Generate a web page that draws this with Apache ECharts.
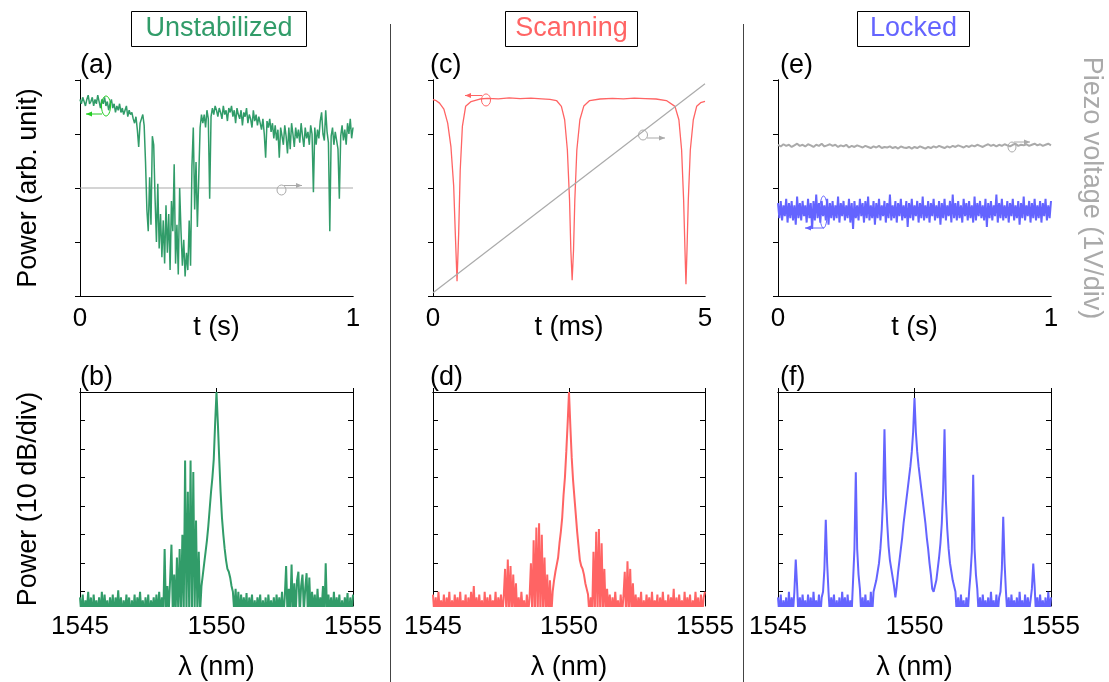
<!DOCTYPE html>
<html><head><meta charset="utf-8">
<script src="https://cdn.jsdelivr.net/npm/echarts@6/dist/echarts.min.js"></script>
<style>html,body{margin:0;padding:0;background:#fff}#c{width:1109px;height:682px}</style>
</head><body><div id="c"></div>
<script>
// ---------------- DATA ----------------
// Panel (a): unstabilized power vs time (arb. units), t = 0..1 s, step 0.005 s
const tStartA = 0, tStepA = 0.005;
const powerA = [
0.91,0.89,0.92,0.90,0.88,0.91,0.93,0.89,0.90,0.92,
0.88,0.91,0.89,0.93,0.90,0.87,0.91,0.89,0.92,0.88,
0.90,0.86,0.89,0.91,0.87,0.89,0.85,0.88,0.86,0.89,
0.85,0.87,0.84,0.86,0.88,0.83,0.86,0.84,0.85,0.82,
0.80,0.83,0.77,0.69,0.80,0.82,0.84,0.79,0.62,0.40,
0.30,0.55,0.33,0.74,0.70,0.45,0.25,0.52,0.22,0.38,
0.18,0.35,0.15,0.42,0.20,0.38,0.12,0.44,0.30,0.61,
0.15,0.33,0.10,0.50,0.30,0.14,0.26,0.09,0.20,0.12,
0.35,0.14,0.60,0.78,0.40,0.62,0.32,0.55,0.78,0.84,
0.80,0.84,0.78,0.86,0.82,0.45,0.83,0.87,0.84,0.88,
0.86,0.83,0.87,0.85,0.82,0.88,0.84,0.86,0.81,0.87,
0.85,0.88,0.83,0.86,0.80,0.87,0.84,0.82,0.86,0.79,
0.85,0.83,0.87,0.80,0.84,0.82,0.78,0.86,0.81,0.84,
0.79,0.83,0.80,0.77,0.82,0.75,0.64,0.81,0.78,0.82,
0.76,0.80,0.73,0.79,0.72,0.77,0.64,0.78,0.74,0.70,
0.79,0.74,0.66,0.78,0.68,0.80,0.75,0.69,0.78,0.73,
0.77,0.71,0.80,0.74,0.69,0.78,0.73,0.76,0.70,0.79,
0.75,0.48,0.78,0.70,0.77,0.73,0.81,0.85,0.75,0.72,
0.86,0.76,0.71,0.30,0.74,0.78,0.70,0.76,0.72,0.68,
0.45,0.74,0.79,0.72,0.77,0.70,0.80,0.75,0.82,0.73,0.78
];
// Panel (a): piezo voltage (V), flat
const piezoTimeA = [0, 1];
const piezoA = [2.0, 2.0];

// Panel (c): scanning power vs time (ms)
const timeC = [0,0.06,0.12,0.2,0.27,0.33,0.38,0.41,0.442,0.472,
0.5,0.54,0.6,0.7,0.86,1.0,1.2,1.4,1.6,1.8,
2.0,2.15,2.27,2.36,2.42,2.47,2.51,2.534,2.558,2.583,
2.607,2.644,2.70,2.773,2.88,3.07,3.3,3.5,3.7,3.9,
4.1,4.29,4.448,4.52,4.57,4.607,4.632,4.65,4.669,4.693,
4.73,4.785,4.847,4.92,5.0];
const powerC = [0.909,0.904,0.893,0.865,0.80,0.69,0.51,0.29,0.068,0.29,
0.58,0.785,0.878,0.900,0.912,0.915,0.913,0.917,0.914,0.916,
0.913,0.910,0.905,0.878,0.816,0.676,0.444,0.212,0.073,0.212,
0.444,0.676,0.816,0.880,0.905,0.912,0.915,0.913,0.916,0.914,
0.912,0.905,0.878,0.816,0.676,0.444,0.212,0.054,0.212,0.444,
0.676,0.816,0.878,0.895,0.901];
const piezoTimeC = [0, 5];
const piezoC = [0.06, 3.93];

// Panel (e): locked power and piezo voltage vs time (s)
const tStepEb = 0.005;
const powerE = [
0.43,0.36,0.44,0.35,0.42,0.37,0.45,0.34,0.43,0.36,
0.44,0.35,0.42,0.33,0.46,0.36,0.43,0.35,0.44,0.37,
0.42,0.34,0.45,0.36,0.43,0.31,0.44,0.35,0.47,0.36,
0.43,0.34,0.44,0.37,0.42,0.35,0.45,0.33,0.43,0.36,
0.44,0.35,0.42,0.36,0.46,0.34,0.43,0.37,0.44,0.35,
0.42,0.36,0.45,0.34,0.43,0.31,0.44,0.36,0.42,0.35,
0.45,0.37,0.43,0.34,0.44,0.36,0.46,0.35,0.42,0.36,
0.44,0.33,0.43,0.36,0.45,0.35,0.42,0.37,0.44,0.34,
0.43,0.36,0.47,0.35,0.42,0.36,0.44,0.34,0.43,0.37,
0.45,0.35,0.42,0.36,0.44,0.32,0.43,0.36,0.45,0.35,
0.42,0.37,0.44,0.34,0.43,0.36,0.46,0.35,0.42,0.36,
0.44,0.34,0.43,0.37,0.45,0.35,0.42,0.36,0.44,0.33,
0.43,0.36,0.45,0.35,0.42,0.37,0.44,0.34,0.47,0.36,
0.43,0.35,0.44,0.36,0.42,0.34,0.45,0.37,0.43,0.35,
0.44,0.36,0.42,0.34,0.46,0.35,0.43,0.37,0.44,0.36,
0.42,0.35,0.45,0.32,0.43,0.36,0.44,0.35,0.42,0.37,
0.47,0.34,0.43,0.36,0.45,0.35,0.42,0.36,0.44,0.34,
0.43,0.37,0.45,0.35,0.42,0.36,0.44,0.33,0.43,0.36,
0.46,0.35,0.42,0.37,0.44,0.34,0.43,0.36,0.45,0.35,
0.42,0.36,0.44,0.34,0.43,0.37,0.45,0.35,0.42,0.36,0.44
];
const tStepEg = 0.01;
const piezoE = [
2.80,2.77,2.81,2.78,2.80,2.76,2.79,2.82,2.78,2.80,
2.77,2.81,2.79,2.76,2.80,2.78,2.82,2.77,2.79,2.81,
2.78,2.80,2.76,2.79,2.77,2.80,2.75,2.78,2.76,2.79,
2.77,2.75,2.78,2.76,2.74,2.77,2.75,2.78,2.74,2.76,
2.75,2.77,2.74,2.76,2.73,2.77,2.75,2.74,2.76,2.73,
2.76,2.74,2.77,2.75,2.73,2.76,2.74,2.77,2.75,2.78,
2.76,2.74,2.77,2.75,2.78,2.76,2.79,2.77,2.75,2.78,
2.76,2.79,2.77,2.80,2.78,2.76,2.79,2.81,2.78,2.80,
2.77,2.80,2.78,2.81,2.79,2.77,2.80,2.82,2.78,2.80,
2.79,2.81,2.78,2.80,2.82,2.79,2.81,2.78,2.80,2.82,2.79
];

// Spectra (b), (d), (f): dB relative to top of frame, lambda = 1545..1555 nm step 0.05
const lamStart = 1545, lamStep = 0.05;
const specB = [
-72,-78,-71,-79,-73,-77,-70,-78,-72,-80,
-71,-77,-73,-78,-72,-79,-70,-78,-71,-77,
-73,-79,-72,-78,-71,-80,-72,-77,-69.5,-78,
-72,-79,-73,-78,-71,-77,-72,-80,-73,-78,
-71,-79,-72,-77,-70,-78,-73,-79,-72,-78,
-71,-80,-73,-77,-72,-78,-71,-79,-70,-78,
-72,-79,-55,-78,-68,-77,-66,-53.5,-78,-64,
-79,-58,-77,-55,-78,-50,-77,-24,-78,-35,
-77,-24,-79,-28,-76,-45,-78,-56,-77,-68,
-64,-60,-56,-52,-47,-41,-35,-30,-23.5,-11,
0,-11,-23.5,-35,-44,-50,-55,-59,-62,-63,
-65,-68,-70,-77,-69,-78,-70,-79,-71,-77,
-72,-78,-70.5,-80,-72,-77,-71,-79,-73,-78,
-72,-77,-71,-79,-73,-78,-72,-80,-71,-77,
-73,-78,-72,-79,-71,-77,-72,-78,-70,-79,
-72,-61,-78,-69,-77,-60.5,-79,-67,-78,-66,
-63,-78,-68,-64,-77,-69,-63.5,-79,-65,-78,
-70,-77,-71,-79,-69,-78,-72,-77,-68,-80,
-60,-78,-71,-77,-72,-79,-70,-78,-72,-77,
-71,-79,-73,-78,-72,-77,-70.5,-80,-72,-78,-71
];
const specD = [
-71,-78,-72,-79,-70,-77,-73,-78,-71,-80,
-72,-77,-70,-79,-73,-78,-71,-77,-72,-79,
-70,-78,-73,-77,-71,-80,-72,-78,-70,-77,
-68,-79,-72,-78,-71,-77,-73,-80,-70,-78,
-72,-79,-71,-77,-73,-78,-70,-79,-72,-77,
-71,-78,-72,-62,-79,-58.7,-77,-61,-78,-64,
-77,-67,-79,-72,-78,-70,-77,-73,-80,-71,
-78,-72,-60,-79,-52,-77,-47.5,-78,-46,-79,
-50,-77,-58,-78,-64,-79,-66,-78,-70,-66,
-63,-60.5,-58,-53,-49,-44,-36,-30,-21,-11,
0,-12,-23,-31,-37,-43,-49,-54,-59,-61,
-62,-64,-67,-69,-71,-78,-72,-79,-56,-77,
-49,-78,-48,-79,-53,-77,-62,-78,-69,-77,
-71,-79,-72,-78,-70,-77,-73,-80,-71,-78,
-72,-63,-79,-59.3,-77,-62,-78,-67,-79,-71,
-78,-72,-77,-70,-80,-73,-78,-71,-77,-72,
-79,-70,-78,-73,-77,-71,-80,-72,-78,-70,
-77,-73,-79,-71,-78,-72,-77,-69,-80,-72,
-78,-71,-77,-73,-79,-70,-78,-72,-77,-71,
-79,-73,-78,-70,-77,-72,-80,-71,-78,-72,-70
];
const specF = [
-72,-78,-71,-79,-73,-77,-72,-80,-70,-78,
-72,-77,-70,-58.7,-68,-79,-72,-78,-71,-77,
-73,-79,-71,-78,-72,-80,-70,-77,-73,-78,
-71,-79,-72,-70,-62,-44.8,-60,-70,-78,-72,
-77,-71,-79,-73,-78,-72,-80,-70,-77,-72,
-79,-71,-78,-73,-77,-66,-55,-28.1,-55,-64,
-69,-78,-72,-79,-71,-77,-73,-80,-70,-78,
-70,-68,-66,-63,-60,-55,-48,-37,-13.1,-36,
-46,-54,-59,-62,-65,-68,-72,-68,-63,-59,
-55,-51,-46,-42,-38,-34,-30,-26,-21,-14,
-2.1,-14,-21,-26,-30,-34,-38,-42,-46,-51,
-55,-60,-64,-69,-70,-68,-66,-62,-58,-53,
-46,-34,-13.1,-38,-48,-55,-60,-63,-66,-68,
-70,-78,-72,-79,-71,-77,-73,-80,-72,-78,
-70,-64,-56,-29,-55,-64,-69,-78,-72,-79,
-71,-77,-73,-78,-72,-80,-70,-77,-73,-79,
-71,-78,-72,-70,-62,-43.7,-60,-70,-78,-72,
-79,-71,-77,-73,-78,-72,-80,-70,-77,-73,
-79,-71,-78,-72,-77,-73,-69,-60.1,-68,-78,
-72,-79,-71,-77,-73,-78,-72,-80,-70,-77,-72
];
const dbTicks = [-70,-60,-50,-40,-30,-20,-10];
const lamTicks = ['1545','1550','1555'];
const colTitles = ['Unstabilized','Scanning','Locked'];
const panelLetters = ['(a)','(c)','(e)','(b)','(d)','(f)'];

// ---------------- CHART ----------------
const FONT = '"Liberation Sans", Arial, sans-serif';
const GREEN = '#319c69', RED = '#ff6464', BLUE = '#6464ff', GRAY = '#aaaaaa';
const COLS = [GREEN, RED, BLUE];
const chart = echarts.init(document.getElementById('c'), null, {renderer: 'canvas'});

const grids = [
  {left: 80, top: 80, width: 273, height: 216},
  {left: 433, top: 80, width: 272, height: 216},
  {left: 778, top: 80, width: 273, height: 216},
  {left: 80, top: 392, width: 273, height: 217},
  {left: 433, top: 392, width: 272, height: 217},
  {left: 778, top: 392, width: 273, height: 217}
];
const blackLine = {show: true, lineStyle: {color: '#000', width: 1}};
const xAxes = [], yAxes = [];
const tMax = [1, 5, 1], tNames = ['t (s)', 't (ms)', 't (s)'];
for (let k = 0; k < 3; k++) {
  xAxes.push({type: 'value', gridIndex: k, min: 0, max: tMax[k], interval: tMax[k],
    axisLine: blackLine, axisTick: {show: false}, splitLine: {show: false},
    axisLabel: {fontSize: 26, color: '#000', fontFamily: FONT, margin: 10},
    name: tNames[k], nameLocation: 'middle', nameGap: 18, nameMoveOverlap: false,
    nameTextStyle: {fontSize: 27, color: '#000', fontFamily: FONT}});
  xAxes.push({type: 'value', gridIndex: k, position: 'top', min: 0, max: tMax[k], interval: tMax[k],
    axisLine: blackLine, axisTick: {show: false}, axisLabel: {show: false}, splitLine: {show: false}});
}
for (let k = 3; k < 6; k++) {
  xAxes.push({type: 'value', gridIndex: k, min: 1545, max: 1555, interval: 5,
    axisLine: blackLine, axisTick: {show: true, inside: true, length: 4, lineStyle: {color: '#000'}},
    splitLine: {show: false},
    axisLabel: {fontSize: 26, color: '#000', fontFamily: FONT, margin: 8,
      formatter: v => lamTicks[Math.round((v - 1545) / 5)]},
    name: 'λ (nm)', nameLocation: 'middle', nameGap: 48, nameMoveOverlap: false,
    nameTextStyle: {fontSize: 27, color: '#000', fontFamily: FONT}});
  xAxes.push({type: 'value', gridIndex: k, position: 'top', min: 1545, max: 1555, interval: 5,
    axisLine: blackLine, axisTick: {show: true, inside: true, length: 8, lineStyle: {color: '#000'}},
    axisLabel: {show: false}, splitLine: {show: false}});
}
for (let k = 0; k < 3; k++) {
  yAxes.push({type: 'value', gridIndex: k, min: 0, max: 1,
    axisLine: blackLine, axisTick: {show: false}, axisLabel: {show: false}, splitLine: {show: false},
    name: k === 0 ? 'Power (arb. unit)' : '', nameLocation: 'middle', nameGap: 38, nameRotate: 90,
    nameMoveOverlap: false,
    nameTextStyle: {fontSize: 27, color: '#000', fontFamily: FONT}});
  yAxes.push({type: 'value', gridIndex: k, position: 'right', min: 0, max: 4, interval: 1,
    axisLine: blackLine, axisTick: {show: true, inside: true, length: 5, lineStyle: {color: '#000'}},
    axisLabel: {show: false}, splitLine: {show: false},
    name: k === 2 ? 'Piezo voltage (1V/div)' : '', nameLocation: 'middle', nameGap: 27, nameRotate: -90,
    nameMoveOverlap: false,
    nameTextStyle: {fontSize: 27, color: GRAY, fontFamily: FONT}});
}
for (let k = 3; k < 6; k++) {
  yAxes.push({type: 'value', gridIndex: k, min: -75, max: 0,
    axisLine: blackLine, axisTick: {show: true, inside: true, length: 5, customValues: dbTicks, lineStyle: {color: '#000'}},
    axisLabel: {show: false, customValues: dbTicks}, splitLine: {show: false},
    name: k === 3 ? 'Power (10 dB/div)' : '', nameLocation: 'middle', nameGap: 38, nameRotate: 90,
    nameMoveOverlap: false,
    nameTextStyle: {fontSize: 27, color: '#000', fontFamily: FONT}});
  yAxes.push({type: 'value', gridIndex: k, position: 'right', min: -75, max: 0,
    axisLine: blackLine, axisTick: {show: true, inside: true, length: 5, customValues: dbTicks, lineStyle: {color: '#000'}},
    axisLabel: {show: false, customValues: dbTicks}, splitLine: {show: false}});
}
// axis index helpers: grid k -> bottom x axis 2k ; left y axis 2k ; right y axis 2k+1
const grid = (arr, x0, dx) => arr.map((v, i) => [+(x0 + i * dx).toFixed(4), v]);
const pairs = (xs, ys) => xs.map((x, i) => [x, ys[i]]);
function line(k, right, data, color, width, z) {
  return {type: 'line', xAxisIndex: 2 * k, yAxisIndex: 2 * k + (right ? 1 : 0), data,
    symbol: 'none', showSymbol: false, animation: false, clip: true, z: z || 2,
    lineStyle: {color, width}, itemStyle: {color}, emphasis: {disabled: true}};
}
const series = [
  line(0, true, pairs(piezoTimeA, piezoA), GRAY, 1.2, 2),
  line(0, false, grid(powerA, tStartA, tStepA), GREEN, 1.5, 3),
  line(1, true, pairs(piezoTimeC, piezoC), GRAY, 1.2, 3),
  line(1, false, pairs(timeC, powerC), RED, 1.3, 2),
  line(2, true, grid(piezoE, 0, tStepEg), GRAY, 2, 2),
  line(2, false, grid(powerE, 0, tStepEb), BLUE, 2, 3),
  line(3, false, grid(specB, lamStart, lamStep), GREEN, 2, 2),
  line(4, false, grid(specD, lamStart, lamStep), RED, 2, 2),
  line(5, false, grid(specF, lamStart, lamStep), BLUE, 2, 2)
];

// ---------------- DECORATIONS ----------------
const graphic = [];
[390.5, 743.5].forEach(x => graphic.push({type: 'line', shape: {x1: x, y1: 24, x2: x, y2: 682},
  style: {stroke: '#444', lineWidth: 1}, silent: true}));
const titleBoxes = [[131, 175], [505, 132], [857, 112]];
titleBoxes.forEach((b, i) => {
  graphic.push({type: 'rect', shape: {x: b[0] + 0.5, y: 11.5, width: b[1], height: 35},
    style: {fill: '#fff', stroke: '#000', lineWidth: 1}, silent: true});
  graphic.push({type: 'text', x: b[0] + b[1] / 2 + 0.5, y: 29, silent: true,
    style: {text: colTitles[i], fill: COLS[i], font: '27px ' + FONT, align: 'center', verticalAlign: 'middle'}});
});
const letterPos = [[80, 66], [430, 66], [780, 66], [80, 378], [430, 378], [780, 378]];
letterPos.forEach((p, i) => graphic.push({type: 'text', x: p[0], y: p[1], silent: true,
  style: {text: panelLetters[i], fill: '#000', font: '27px ' + FONT, align: 'left', verticalAlign: 'middle'}}));
function marker(cx, cy, rx, ry, ax1, ay, ax2, color) {
  graphic.push({type: 'ellipse', shape: {cx, cy, rx, ry}, style: {fill: 'none', stroke: color, lineWidth: 1}, silent: true, z: 10});
  graphic.push({type: 'line', shape: {x1: ax1, y1: ay, x2: ax2, y2: ay}, style: {stroke: color, lineWidth: 1}, silent: true, z: 10});
  const d = ax2 > ax1 ? 1 : -1;
  graphic.push({type: 'polygon', shape: {points: [[ax2, ay], [ax2 - d * 6, ay - 2.5], [ax2 - d * 6, ay + 2.5]]},
    style: {fill: color}, silent: true, z: 10});
}
marker(106, 106, 4.5, 10, 102, 114, 86, '#22cc22');
marker(281.5, 190, 4.5, 5, 284, 185.5, 302, GRAY);
marker(486, 100, 4.5, 6, 482, 95.5, 465, RED);
marker(643, 135, 4.5, 5, 647, 138, 665, GRAY);
marker(1012, 147, 4, 5, 1014, 142, 1030, GRAY);
marker(823.5, 212, 3.8, 16, 824, 228, 805, BLUE);

chart.setOption({
  animation: false,
  backgroundColor: '#fff',
  textStyle: {fontFamily: FONT},
  grid: grids,
  xAxis: xAxes,
  yAxis: yAxes,
  series,
  graphic
});
</script></body></html>
